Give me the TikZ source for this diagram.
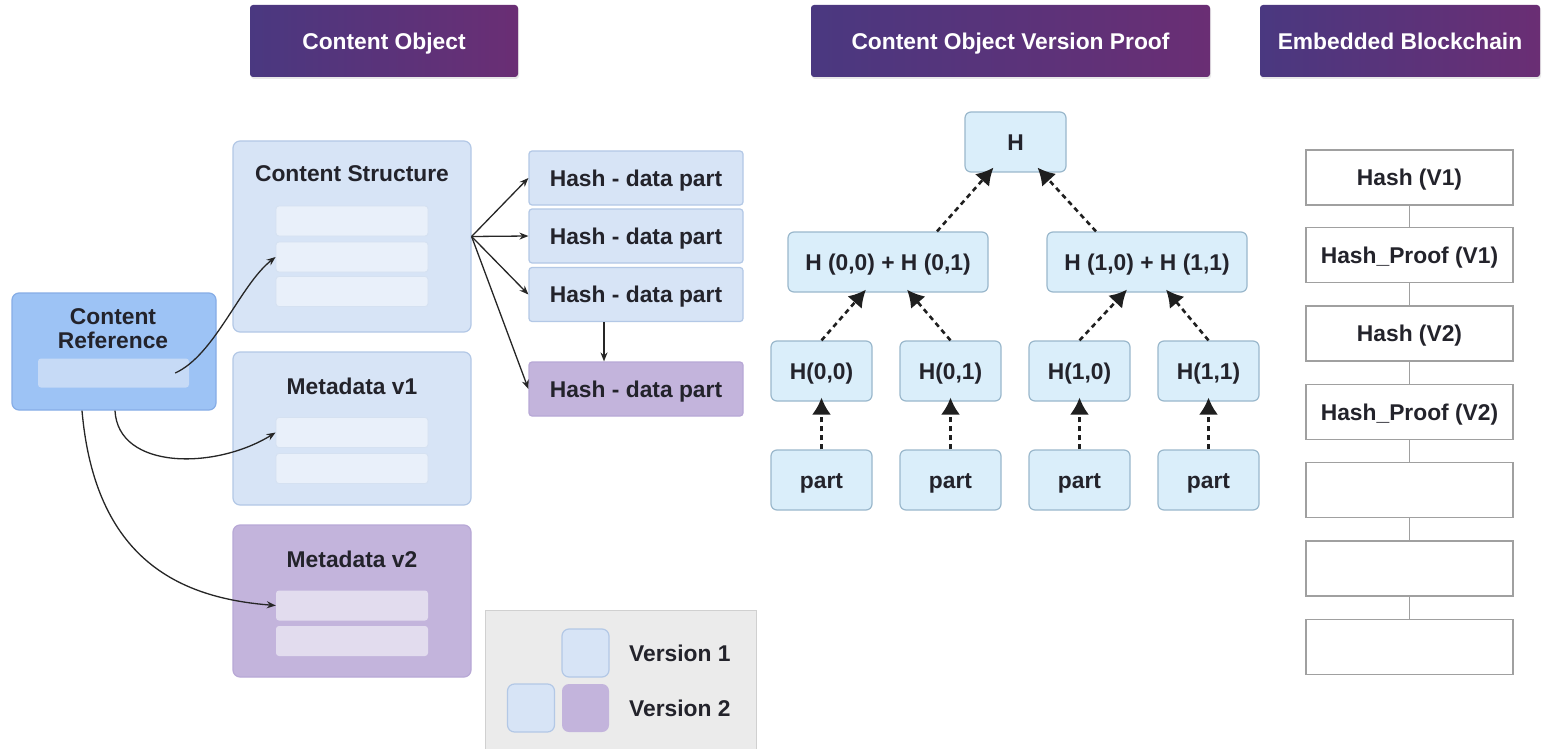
\documentclass[tikz,border=0pt]{standalone}
\usepackage{fontspec}
\setmainfont{Liberation Sans}
\usetikzlibrary{arrows.meta,shadows}
\definecolor{hdrL}{HTML}{4A3880}
\definecolor{hdrR}{HTML}{6A2E74}
\definecolor{txt}{HTML}{23232B}
\definecolor{crfill}{HTML}{9DC3F5}
\definecolor{crdraw}{HTML}{86ADE6}
\definecolor{crbar}{HTML}{C6DAF6}
\definecolor{bfill}{HTML}{D7E4F6}
\definecolor{bdraw}{HTML}{B3C8E6}
\definecolor{bbar}{HTML}{E9F0FA}
\definecolor{bbardraw}{HTML}{D5E1F1}
\definecolor{pfill}{HTML}{C3B4DC}
\definecolor{pdraw}{HTML}{B8A8D6}
\definecolor{pbar}{HTML}{E2DCEE}
\definecolor{mfill}{HTML}{DAEEFA}
\definecolor{mdraw}{HTML}{9AB8CC}
\definecolor{lgbg}{HTML}{EBEBEB}
\definecolor{lgdraw}{HTML}{D0D0D0}
\definecolor{chdraw}{HTML}{A0A0A0}
\tikzset{
  x=1pt, y=-1pt,
  every node/.style={font=\fontsize{22.8}{27}\selectfont\bfseries, text=txt, inner sep=0pt},
  ctr/.style={text height=16.3pt, text depth=0pt},
  hdr/.style={ctr, rectangle, rounded corners=3, left color=hdrL, right color=hdrR, draw=none,
    text=white, minimum height=72, drop shadow={opacity=0.18, shadow xshift=1pt, shadow yshift=-2pt}},
  crbox/.style={rectangle, rounded corners=7, fill=crfill, draw=crdraw, line width=1.2},
  crbarst/.style={rectangle, rounded corners=3, fill=crbar, draw=none, minimum width=151, minimum height=29},
  bluebox/.style={rectangle, rounded corners=7, fill=bfill, draw=bdraw, line width=1.2, minimum width=238},
  purpbox/.style={rectangle, rounded corners=7, fill=pfill, draw=pdraw, line width=1.2, minimum width=238},
  bbarst/.style={rectangle, rounded corners=3, fill=bbar, draw=bbardraw, line width=0.8, minimum width=152, minimum height=30},
  pbarst/.style={rectangle, rounded corners=3, fill=pbar, draw=none, minimum width=152, minimum height=30},
  hashbox/.style={ctr, rectangle, rounded corners=3, fill=bfill, draw=bdraw, line width=1.2, minimum width=214, minimum height=54},
  hashpbox/.style={ctr, rectangle, rounded corners=3, fill=pfill, draw=pdraw, line width=1.2, minimum width=214, minimum height=54},
  mbox/.style={ctr, rectangle, rounded corners=6, fill=mfill, draw=mdraw, line width=1.2, minimum height=60},
  chbox/.style={ctr, rectangle, draw=chdraw, fill=white, line width=1.2, minimum width=207, minimum height=55},
  thin arrow/.style={draw=black!85, line width=1.3, -{Stealth[length=9pt,width=7pt]}},
  proof arrow/.style={draw=black!88, line width=2.6, dash pattern=on 5pt off 4pt,
    -{Latex[length=17pt,width=19pt]}},
  sq/.style={rectangle, rounded corners=7, minimum width=47, minimum height=48, line width=1.2}
}
\begin{document}
\begin{tikzpicture}
\useasboundingbox (0,0) rectangle (1553,749);
\fill[white] (0,0) rectangle (1553,749);

% headers
\node[hdr, minimum width=268] (h1) at (384,41) {Content Object};
\node[hdr, minimum width=399] (h2) at (1010.5,41) {Content Object Version Proof};
\node[hdr, minimum width=280] (h3) at (1400,41) {Embedded Blockchain};

% content reference
\node[crbox, minimum width=204, minimum height=117] (cr) at (114,351.5) {};
\node[align=center] (crt) at (113,329) {Content\\[-3pt]Reference};
\node[crbarst] (crb) at (113.5,373) {};

% content structure
\node[bluebox, minimum height=191] (cs) at (352,236.5) {};
\node[ctr] (cst) at (352,173) {Content Structure};
\node[bbarst] (csb1) at (352,221) {};
\node[bbarst] (csb2) at (352,257) {};
\node[bbarst] (csb3) at (352,291.5) {};

% metadata v1
\node[bluebox, minimum height=153] (m1) at (352,428.5) {};
\node[ctr] (m1t) at (352,386) {Metadata v1};
\node[bbarst] (m1b1) at (352,432.5) {};
\node[bbarst] (m1b2) at (352,468.5) {};

% metadata v2
\node[purpbox, minimum height=152] (m2) at (352,601) {};
\node[ctr] (m2t) at (352,559) {Metadata v2};
\node[pbarst] (m2b1) at (352,605.5) {};
\node[pbarst] (m2b2) at (352,641) {};

% hash boxes
\node[hashbox] (hd1) at (636,178) {Hash - data part};
\node[hashbox] (hd2) at (636,236) {Hash - data part};
\node[hashbox] (hd3) at (636,294.5) {Hash - data part};
\node[hashpbox] (hd4) at (636,389) {Hash - data part};

% connectors left part
\coordinate (fan) at (cs.east);
\draw[thin arrow] (fan) -- (hd1.west);
\draw[thin arrow] (fan) -- (hd2.west);
\draw[thin arrow] (fan) -- (hd3.west);
\draw[thin arrow] (fan) -- (hd4.west);
\draw[thin arrow] (hd3.south -| 604,0) -- (hd4.north -| 604,0);

\draw[thin arrow] ([xshift=-14pt]crb.east) .. controls (215,355) and (240,285) .. (csb2.west);
\draw[thin arrow] ([xshift=1pt]cr.south) .. controls (118,470) and (215,470) .. (m1b1.west);
\draw[thin arrow] ([xshift=-32pt]cr.south) .. controls (95,560) and (180,598) .. (m2b1.west);

% legend
\node[rectangle, fill=lgbg, draw=lgdraw, line width=1, minimum width=271, minimum height=139] (lg) at (620.5,679.5) {};
\node[sq, fill=bfill, draw=bdraw] (sq1) at (585.5,653) {};
\node[sq, fill=bfill, draw=bdraw] (sq2) at (531,708) {};
\node[sq, fill=pfill, draw=none] (sq3) at (585.5,708) {};
\node[ctr, anchor=west] (lg1) at (629,653) {Version 1};
\node[ctr, anchor=west] (lg2) at (629,708) {Version 2};

% merkle tree
\node[mbox, minimum width=101] (mh) at (1015.5,142) {H};
\node[mbox, minimum width=200] (ml) at (888,262) {H (0,0) + H (0,1)};
\node[mbox, minimum width=200] (mr) at (1147,262) {H (1,0) + H (1,1)};
\node[mbox, minimum width=101] (l1) at (821.5,371) {H(0,0)};
\node[mbox, minimum width=101] (l2) at (950.5,371) {H(0,1)};
\node[mbox, minimum width=101] (l3) at (1079.5,371) {H(1,0)};
\node[mbox, minimum width=101] (l4) at (1208.5,371) {H(1,1)};
\node[mbox, minimum width=101] (p1) at (821.5,480) {part};
\node[mbox, minimum width=101] (p2) at (950.5,480) {part};
\node[mbox, minimum width=101] (p3) at (1079.5,480) {part};
\node[mbox, minimum width=101] (p4) at (1208.5,480) {part};

\draw[proof arrow] ([xshift=49pt]ml.north) -- ([xshift=-22pt,yshift=5pt]mh.south);
\draw[proof arrow] ([xshift=-51pt]mr.north) -- ([xshift=22pt,yshift=5pt]mh.south);
\draw[proof arrow] (l1.north) -- ([xshift=-22pt,yshift=3pt]ml.south);
\draw[proof arrow] (l2.north) -- ([xshift=19pt,yshift=3pt]ml.south);
\draw[proof arrow] (l3.north) -- ([xshift=-20pt,yshift=3pt]mr.south);
\draw[proof arrow] (l4.north) -- ([xshift=19pt,yshift=3pt]mr.south);
\draw[proof arrow] (p1.north) -- ([yshift=4pt]l1.south);
\draw[proof arrow] (p2.north) -- ([yshift=4pt]l2.south);
\draw[proof arrow] (p3.north) -- ([yshift=4pt]l3.south);
\draw[proof arrow] (p4.north) -- ([yshift=4pt]l4.south);

% blockchain
\node[chbox] (b1) at (1409.5,177.5) {Hash (V1)};
\node[chbox] (b2) at (1409.5,255) {Hash\_Proof (V1)};
\node[chbox] (b3) at (1409.5,333.5) {Hash (V2)};
\node[chbox] (b4) at (1409.5,412) {Hash\_Proof (V2)};
\node[chbox] (b5) at (1409.5,490) {};
\node[chbox] (b6) at (1409.5,568.5) {};
\node[chbox] (b7) at (1409.5,647) {};
\foreach \a/\b in {b1/b2,b2/b3,b3/b4,b4/b5,b5/b6,b6/b7}
  \draw[chdraw, line width=1.5] (\a.south) -- (\b.north);
\end{tikzpicture}
\end{document}
